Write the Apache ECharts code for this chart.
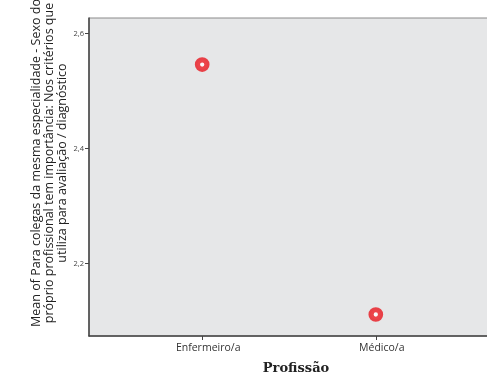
<!DOCTYPE html>
<html>
<head>
<meta charset="utf-8">
<script src="https://cdn.jsdelivr.net/npm/echarts@6/dist/echarts.min.js"></script>
<style>
  html, body { margin: 0; padding: 0; background: #ffffff; }
  #chart { width: 487px; height: 378px; }
</style>
</head>
<body>
<div id="chart"></div>
<script>
// Categories and the mean of each group
const categories = ['Enfermeiro/a', 'Médico/a'];
const means = [2.546, 2.111];
const yTicks = [2.2, 2.4, 2.6];

const yTitle = 'Mean of Para colegas da mesma especialidade - Sexo do\npróprio profissional tem importância: Nos critérios que\nutiliza para avaliação / diagnóstico';

const chart = echarts.init(document.getElementById('chart'), null, { renderer: 'canvas' });

chart.setOption({
  animation: false,
  grid: {
    left: 89, top: 18, width: 400, height: 318,
    outerBoundsMode: 'none',
    containLabel: false,
    show: true,
    backgroundColor: '#e6e7e8',
    borderColor: '#8a8a8a',
    borderWidth: 1
  },
  xAxis: {
    type: 'value',
    min: -0.652, max: 1.652,
    name: 'Profissão',
    nameLocation: 'middle',
    nameGap: 26,
    nameMoveOverlap: false,
    nameTextStyle: { fontFamily: 'DejaVu Serif', fontWeight: 'bold', fontSize: 13, color: '#222', padding: [0, 0, 0, 14] },
    splitLine: { show: false },
    axisLine: { show: true, onZero: false, lineStyle: { color: '#444', width: 1.5 } },
    axisTick: { show: true, length: 4, customValues: [0, 1], lineStyle: { color: '#444' } },
    axisLabel: {
      customValues: [0, 1],
      formatter: v => categories[Math.round(v)],
      fontFamily: 'Open Sans', fontSize: 10.5, color: '#333', margin: 7,
      padding: [0, 0, 0, 12]
    }
  },
  yAxis: {
    type: 'value',
    min: 2.0736, max: 2.627,
    name: yTitle,
    nameLocation: 'middle',
    nameRotate: 90,
    nameGap: 20,
    nameMoveOverlap: false,
    nameTextStyle: { fontFamily: 'Open Sans', fontSize: 12.5, color: '#222', lineHeight: 13, align: 'center', padding: [0, 0, 0, 28] },
    splitLine: { show: false },
    axisLine: { show: true, onZero: false, lineStyle: { color: '#444', width: 1.5 } },
    axisTick: { show: true, length: 4, customValues: yTicks, lineStyle: { color: '#444' } },
    axisLabel: {
      customValues: yTicks,
      formatter: v => v.toFixed(1).replace('.', ','),
      fontFamily: 'Open Sans', fontSize: 7.5, color: '#444', margin: 5
    }
  },
  series: [{
    type: 'scatter',
    data: means.map((m, i) => [i, m]),
    symbol: 'circle',
    symbolSize: 9.5,
    itemStyle: { color: '#ffffff', borderColor: '#e8161e', borderWidth: 5.2 }
  }]
});
</script>
</body>
</html>
